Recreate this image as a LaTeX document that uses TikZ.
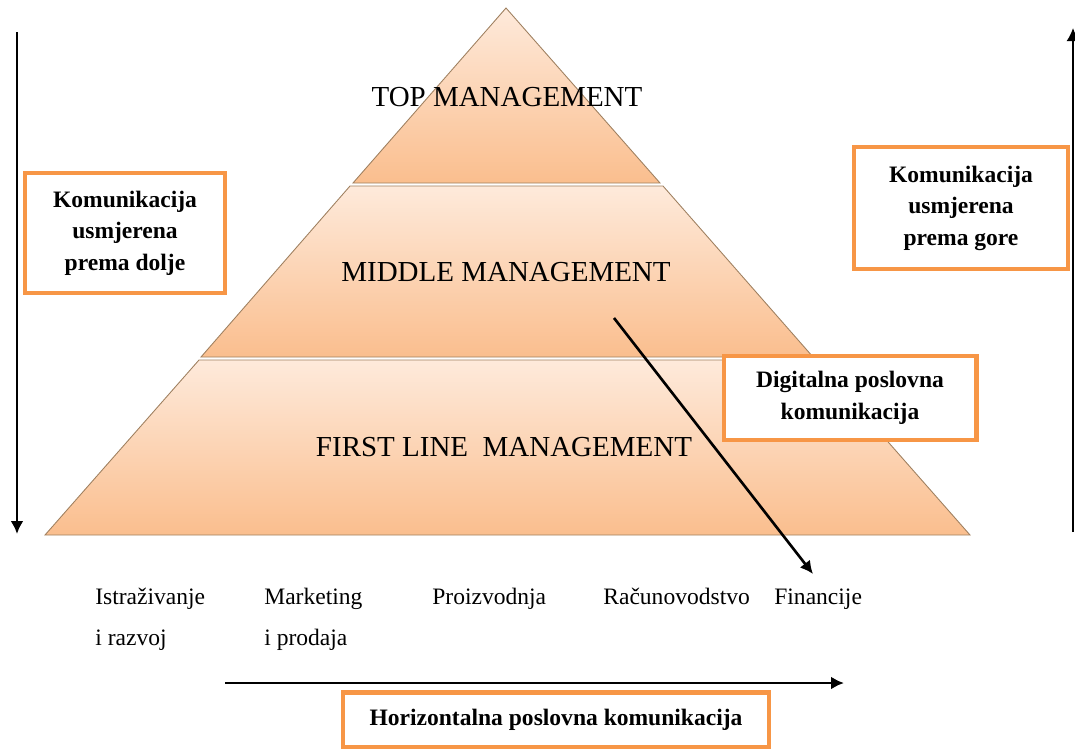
\documentclass[tikz,border=0pt]{standalone}
\usepackage{fontspec}
\setmainfont{Liberation Serif}
\usetikzlibrary{arrows,arrows.meta,positioning}
\definecolor{pyrLight}{RGB}{254,234,219}
\definecolor{pyrDark}{RGB}{250,190,142}
\definecolor{boxOrange}{RGB}{247,150,70}
\tikzset{
  treenode/.style = {align=center, inner sep=0pt, text centered},
  % one layer of the pyramid, light at the top
  tier_P/.style = {draw=brown!50!gray, line width=0.5pt, top color=pyrLight, bottom color=pyrDark},
  tier_T/.style = {treenode, font=\fontsize{16.5}{20}\selectfont},
  box_O/.style = {treenode, draw=boxOrange, line width=2.3pt, fill=white, font=\fontsize{13.4}{17.9}\selectfont\bfseries},
  label_D/.style = {treenode, align=left, anchor=base west, font=\fontsize{13.4}{23}\selectfont},
  arr_K/.style = {->, black, line width=1.5pt}
}

\begin{document}
\begin{tikzpicture}[>={Latex[length=2.6mm,width=2.6mm]}, x=0.02cm, y=-0.02cm]
    \useasboundingbox (0,0) rectangle (1075,748);
    % Pyramid - top layer:
    \path [tier_P] (506,8) -- (660,183) -- (353,183) -- cycle;
    % Pyramid - middle layer:
    \path [tier_P] (350,186) -- (663,186) -- (813,357) -- (201,357) -- cycle;
    % Pyramid - bottom layer:
    \path [tier_P] (199,360) -- (816,360) -- (970,535) -- (45,535) -- cycle;
    \node [tier_T] (top) at (507,97) {TOP MANAGEMENT};
    \node [tier_T] (mid) at (506,272) {MIDDLE MANAGEMENT};
    \node [tier_T] (fst) at (504,447) {FIRST LINE~~MANAGEMENT};
    % Departments under the pyramid (base = last line):
    \node [label_D] (istr) at (95,645) {Istraživanje\\i razvoj};
    \node [label_D] (mark) at (264,645) {Marketing\\i prodaja};
    \node [label_D] (proi) at (432,604) {Proizvodnja};
    \node [label_D] (racu) at (603,604) {Računovodstvo};
    \node [label_D] (fina) at (774,604) {Financije};
    % Boxes:
    \node [box_O, minimum width=4cm, minimum height=2.4cm] (down) at (125,233)
          {Komunikacija\\usmjerena\\prema dolje};
    \node [box_O, minimum width=4.28cm, minimum height=2.44cm] (up) at (961,208)
          {Komunikacija\\usmjerena\\prema gore};
    \node [box_O, minimum width=5.06cm, minimum height=1.68cm] (digi) at (850,398)
          {Digitalna poslovna\\komunikacija};
    \node [box_O, minimum width=8.54cm, minimum height=1.1cm] (hori) at (556,720)
          {Horizontalna poslovna komunikacija};
    % Arrow ends:
    \coordinate (downS) at (17,32);
    \coordinate (downE) at (17,534);
    \coordinate (upS) at (1073,532);
    \coordinate (upE) at (1073,28);
    \coordinate (digS) at (614,318);
    \coordinate (digE) at (813,574);
    \coordinate (horS) at (225,683);
    \coordinate (horE) at (844,683);
    \draw [arr_K] (downS) -- (downE);
    \draw [arr_K, line width=1pt] (upS) -- (upE);
    \draw [arr_K] (digS) -- (digE);
    \draw [arr_K] (horS) -- (horE);
\end{tikzpicture}
\end{document}
